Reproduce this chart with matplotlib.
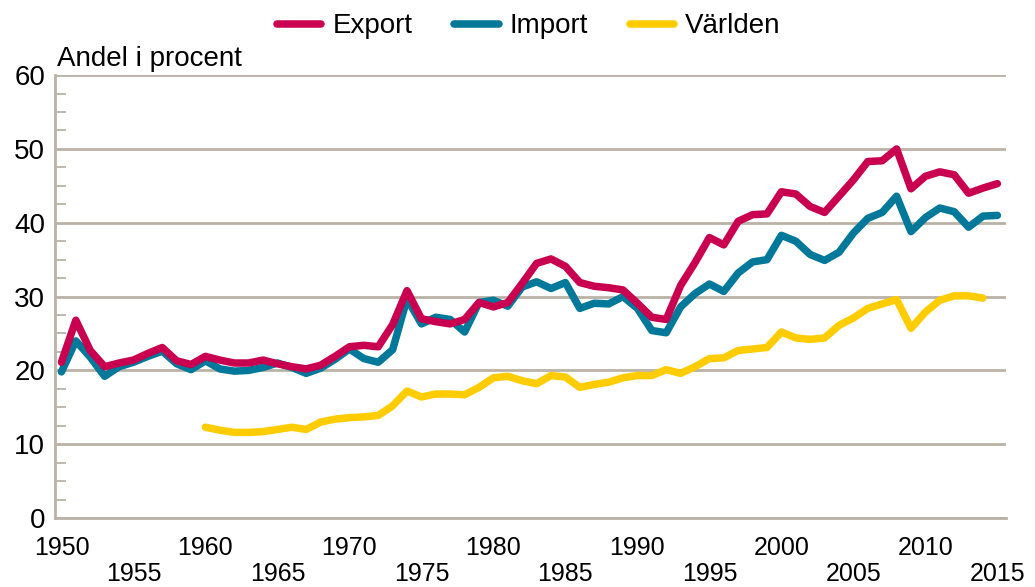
import numpy as np
import matplotlib
matplotlib.use('Agg')
import matplotlib.pyplot as plt
from matplotlib.ticker import MultipleLocator

plt.rcParams['font.family'] = ['Liberation Sans', 'DejaVu Sans']

# data (share in percent)
years_trade = list(range(1950, 2016))
export = [21.1, 26.8, 22.7, 20.5, 21.0, 21.4, 22.3, 23.1, 21.3, 20.8,
          21.9, 21.4, 21.0, 21.0, 21.4, 20.9, 20.5, 20.2, 20.7, 21.9,
          23.2, 23.4, 23.2, 26.2, 30.8, 27.0, 26.6, 26.3, 26.9, 29.2,
          28.6, 29.2, 31.8, 34.5, 35.1, 34.1, 31.9, 31.4, 31.2, 30.9,
          29.1, 27.2, 26.9, 31.5, 34.6, 38.0, 37.0, 40.2, 41.1, 41.2,
          44.2, 43.9, 42.2, 41.4, 43.6, 45.8, 48.3, 48.4, 50.0, 44.6,
          46.3, 46.9, 46.5, 44.0, 44.7, 45.3]
imports = [19.8, 24.0, 21.8, 19.2, 20.5, 21.1, 21.9, 22.6, 20.9, 20.1,
           21.3, 20.2, 19.9, 20.0, 20.4, 21.0, 20.4, 19.6, 20.3, 21.5,
           22.9, 21.6, 21.1, 22.8, 29.7, 26.3, 27.2, 26.9, 25.2, 29.2,
           29.5, 28.7, 31.3, 32.0, 31.1, 31.9, 28.4, 29.1, 29.0, 30.0,
           28.4, 25.4, 25.1, 28.6, 30.4, 31.7, 30.7, 33.2, 34.7, 35.0,
           38.3, 37.5, 35.7, 34.9, 36.0, 38.6, 40.6, 41.4, 43.6, 38.8,
           40.7, 42.0, 41.5, 39.4, 40.9, 41.0]
years_world = list(range(1960, 2015))
world = [12.3, 11.9, 11.6, 11.6, 11.7, 12.0, 12.3, 12.0, 13.0, 13.4,
         13.6, 13.7, 13.9, 15.2, 17.2, 16.4, 16.8, 16.8, 16.7, 17.7,
         19.0, 19.2, 18.6, 18.2, 19.3, 19.1, 17.7, 18.1, 18.4, 19.0,
         19.3, 19.3, 20.1, 19.6, 20.5, 21.6, 21.7, 22.7, 22.9, 23.1,
         25.2, 24.4, 24.2, 24.4, 26.1, 27.1, 28.4, 29.0, 29.6, 25.7,
         27.9, 29.5, 30.1, 30.1, 29.8]

decades = [1950, 1960, 1970, 1980, 1990, 2000, 2010]
half_decades = [1955, 1965, 1975, 1985, 1995, 2005, 2015]

EXPORT_COL = '#C8004F'
IMPORT_COL = '#00789A'
WORLD_COL = '#FFCC00'
GRID_COL = '#BAB2A6'

fig = plt.figure(figsize=(10.35, 5.87), dpi=100)
ax = fig.add_axes([0.0531, 0.1175, 0.9189, 0.7545])

line_kw = dict(linewidth=5.4, solid_capstyle='round', solid_joinstyle='round')
ax.plot(years_trade, export, color=EXPORT_COL, label='Export', zorder=3, **line_kw)
ax.plot(years_trade, imports, color=IMPORT_COL, label='Import', zorder=2, **line_kw)
ax.plot(years_world, world, color=WORLD_COL, label='Världen', zorder=2, **line_kw)

ax.set_xlim(1949.55, 2015.6)
ax.set_ylim(0, 60)

# y axis: labelled gridlines every 10, small inward ticks every 2.5
ax.yaxis.set_major_locator(MultipleLocator(10))
ax.yaxis.set_minor_locator(MultipleLocator(2.5))
ax.grid(axis='y', which='major', color=GRID_COL, linewidth=2)
ax.tick_params(axis='y', which='major', length=0, pad=7, labelsize=20)
ax.tick_params(axis='y', which='minor', direction='in', length=8,
               width=1.3, color=GRID_COL)

# x axis: decades on the first row, half decades below
ax.set_xticks(decades)
ax.set_xticks(half_decades, minor=True)
ax.set_xticklabels([str(y) for y in decades])
ax.set_xticklabels([str(y) for y in half_decades], minor=True)
ax.tick_params(axis='x', which='major', length=0, pad=13, labelsize=18)
ax.tick_params(axis='x', which='minor', length=0, pad=31.5, labelsize=18)

for side in ['top', 'right']:
    ax.spines[side].set_visible(False)
ax.spines['left'].set_color(GRID_COL)
ax.spines['left'].set_linewidth(2)
ax.spines['bottom'].set_color(GRID_COL)
ax.spines['bottom'].set_linewidth(2)

ax.text(0.002, 1.008, 'Andel i procent', transform=ax.transAxes,
        ha='left', va='bottom', fontsize=20)

fig.legend(loc='center', bbox_to_anchor=(0.511, 0.955), ncol=3, frameon=False,
           fontsize=20, handlelength=1.6, handletextpad=0.4, columnspacing=1.5)

plt.savefig('out.png', dpi=100)
plt.close()
